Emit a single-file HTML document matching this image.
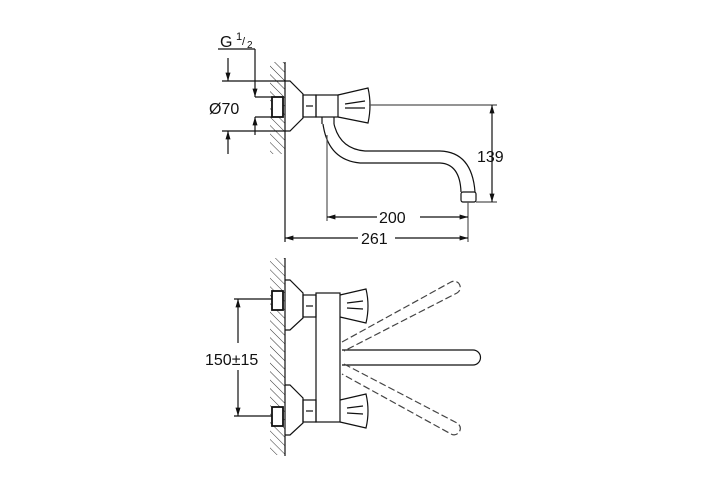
<!DOCTYPE html>
<html><head><style>
html,body{margin:0;padding:0;background:#fff;}
svg{display:block;}
text{font-family:"Liberation Sans",sans-serif;fill:#111;}
</style></head><body>
<svg width="711" height="486" viewBox="0 0 711 486" xmlns="http://www.w3.org/2000/svg">
<defs>
<pattern id="h" width="6" height="6" patternUnits="userSpaceOnUse" patternTransform="rotate(-45)">
<line x1="0" y1="0" x2="0" y2="6" stroke="#333" stroke-width="1"/>
</pattern>
<marker id="a" viewBox="0 0 10 10" refX="10" refY="5" markerWidth="7" markerHeight="7" orient="auto-start-reverse">
<path d="M0,2 L10,5 L0,8 z" fill="#111"/>
</marker>
</defs>
<g stroke="#111" fill="none" stroke-width="1.2">
<!-- TOP VIEW -->
<rect x="270" y="62" width="15" height="92" fill="url(#h)" stroke="none"/>
<line x1="285" y1="62" x2="285" y2="242"/>
<rect x="272" y="97" width="11" height="20" fill="#fff" stroke-width="1.8"/>
<path d="M285,81 L290,81 L303,94 L303,118 L290,131 L285,131"/>
<rect x="303" y="95" width="13" height="22"/>
<line x1="306" y1="106" x2="313" y2="106"/>
<rect x="316" y="95" width="22" height="22"/>
<path d="M338,95 L368,88 Q372,105 368,123 L338,117"/>
<line x1="345" y1="104" x2="365" y2="101"/><line x1="345" y1="108" x2="365" y2="108"/>
<line x1="369" y1="105" x2="497" y2="105" stroke="#555"/>
<path d="M322,117 L322,124 M334,117 L334,124"/>
<path d="M323,124 Q328,160 360,163 L440,163 Q460,164 461,192"/>
<path d="M334,124 Q340,149 365,151 L440,151 Q472,152 475,192"/>
<rect x="461" y="192" width="15" height="10" rx="2"/>
<line x1="476" y1="202" x2="497" y2="202" stroke="#555"/>
<line x1="492" y1="105" x2="492" y2="202" marker-start="url(#a)" marker-end="url(#a)"/>
<line x1="327" y1="135" x2="327" y2="221" stroke="#555"/>
<line x1="468" y1="202" x2="468" y2="242" stroke="#555"/>
<line x1="327" y1="217" x2="377" y2="217" marker-start="url(#a)"/>
<line x1="420" y1="217" x2="468" y2="217" marker-end="url(#a)"/>
<line x1="285" y1="238" x2="358" y2="238" marker-start="url(#a)"/>
<line x1="395" y1="238" x2="468" y2="238" marker-end="url(#a)"/>
<line x1="218" y1="49" x2="255" y2="49"/>
<line x1="255" y1="49" x2="255" y2="97" marker-end="url(#a)"/>
<line x1="255" y1="135" x2="255" y2="117" marker-end="url(#a)"/>
<line x1="255" y1="97" x2="272" y2="97"/><line x1="255" y1="117" x2="272" y2="117"/>
<line x1="222" y1="81" x2="285" y2="81"/><line x1="222" y1="131" x2="285" y2="131"/>
<line x1="228" y1="58" x2="228" y2="81" marker-end="url(#a)"/>
<line x1="228" y1="154" x2="228" y2="131" marker-end="url(#a)"/>
<!-- BOTTOM VIEW -->
<rect x="270" y="258" width="15" height="197" fill="url(#h)" stroke="none"/>
<line x1="285" y1="258" x2="285" y2="456"/>
<rect x="272" y="291" width="11" height="19" fill="#fff" stroke-width="1.8"/>
<rect x="272" y="407" width="11" height="19" fill="#fff" stroke-width="1.8"/>
<path d="M285,280 L290,280 L303,293 L303,318 L290,330 L285,330"/>
<path d="M285,385 L290,385 L303,398 L303,423 L290,435 L285,435"/>
<rect x="303" y="295" width="13" height="22"/><line x1="306" y1="306" x2="313" y2="306"/>
<rect x="303" y="400" width="13" height="22"/><line x1="306" y1="411" x2="313" y2="411"/>
<rect x="316" y="293" width="24" height="129"/>
<path d="M340,295 L366,289 Q370,306 366,323 L340,317"/>
<path d="M340,400 L366,394 Q370,411 366,428 L340,422"/>
<line x1="347" y1="303" x2="363" y2="301"/><line x1="347" y1="308" x2="363" y2="309"/>
<line x1="347" y1="408" x2="363" y2="406"/><line x1="347" y1="413" x2="363" y2="414"/>
<path d="M342,350 L473,350 A7.5,7.5 0 0 1 473,365 L342,365"/>
<g stroke-dasharray="7,3" stroke="#444">
<path d="M342,342 L451,282 A6,6 0 0 1 457,293 L344,351"/>
<path d="M344,364 L457,423 A6,6 0 0 1 451,434 L342,374"/>
</g>
<line x1="234" y1="299" x2="272" y2="299"/><line x1="234" y1="416" x2="272" y2="416"/>
<line x1="238" y1="299" x2="238" y2="343" marker-start="url(#a)"/>
<line x1="238" y1="370" x2="238" y2="416" marker-end="url(#a)"/>
</g>
<text x="220" y="47" font-size="16">G</text>
<text x="236" y="40" font-size="11">1</text><text x="242" y="45" font-size="11">/</text><text x="247" y="48" font-size="10">2</text>
<text x="209" y="114" font-size="16">Ø70</text>
<text x="477" y="162" font-size="16">139</text>
<text x="379" y="223" font-size="16">200</text>
<text x="361" y="244" font-size="16">261</text>
<text x="205" y="365" font-size="16">150±15</text>
</svg>
</body></html>
